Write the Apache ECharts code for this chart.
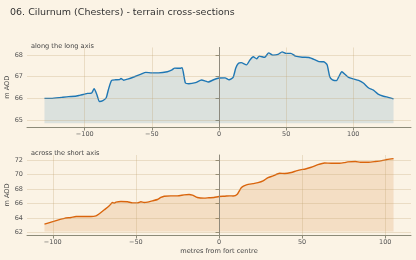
<!DOCTYPE html>
<html>
<head>
<meta charset="utf-8">
<script src="https://cdn.jsdelivr.net/npm/echarts@6/dist/echarts.min.js"></script>
<style>
  html, body { margin: 0; padding: 0; background: #fbf3e5; }
  #chart { width: 416px; height: 260px; }
</style>
</head>
<body>
<div id="chart"></div>
<script>
// long axis profile (metres from centre, m AOD)
var longX = [-130,-125,-117,-112,-107,-104,-100,-98,-95,-93,-91,-89,-86.5,-84,-82.5,-80,-77,-74,-73,-71,-68,-63,-58,-54.5,-50,-45,-38.5,-35,-33,-29,-27.5,-25,-22.5,-17.5,-13,-10,-8,-4,0,4.5,7.5,10.5,12.5,14.5,16.5,20.5,23,25.5,28,30,34,37,40,44,47,50,53.5,57,62,67,72,74.5,78,80.5,82.5,84.5,87.5,89,91.5,94,96.5,100,104,107.5,111.5,115,118.5,122.5,126,130];
var longY = [66.0,66.0,66.05,66.08,66.1,66.14,66.2,66.23,66.24,66.45,66.18,65.86,65.9,66.03,66.38,66.83,66.86,66.87,66.92,66.84,66.89,67.0,67.12,67.2,67.18,67.18,67.23,67.32,67.4,67.39,67.42,66.71,66.68,66.73,66.85,66.8,66.76,66.86,66.94,66.95,66.86,66.97,67.4,67.62,67.65,67.55,67.77,67.92,67.83,67.95,67.9,68.1,68.0,68.03,68.15,68.08,68.08,67.95,67.9,67.89,67.77,67.7,67.69,67.55,67.0,66.86,66.82,66.97,67.23,67.1,66.97,66.9,66.83,66.71,66.48,66.38,66.2,66.1,66.05,65.98];

// short axis profile
var shortX = [-105,-101,-97,-93,-89,-86,-81,-77,-74,-72,-69,-66,-64,-63,-62,-59,-55,-52,-49,-47,-45,-43,-40,-37,-35,-33,-29,-25,-21,-18,-16,-13,-9,-6,-3,0,3.5,6.5,8.5,11,13.5,16.5,20.5,23.5,26.5,29.5,32.5,36.5,39.5,43.5,46.5,49.5,51.5,55.5,59.5,63.5,67.5,72.5,75.5,77.5,82,85,90,94,98,101,105];
var shortY = [63.15,63.43,63.7,63.94,64.07,64.2,64.2,64.2,64.3,64.58,65.13,65.69,66.15,66.06,66.2,66.29,66.24,66.1,66.1,66.24,66.15,66.2,66.38,66.56,66.84,67.02,67.07,67.07,67.2,67.25,67.16,66.84,66.75,66.8,66.84,66.98,67.02,67.07,67.05,67.3,68.22,68.59,68.77,68.9,69.14,69.6,69.83,70.2,70.16,70.3,70.53,70.71,70.76,71.03,71.4,71.63,71.59,71.59,71.68,71.77,71.82,71.72,71.72,71.82,71.95,72.1,72.23];

var longXTicks = [-100, -50, 0, 50, 100];
var longYTicks = [65, 66, 67, 68];
var shortXTicks = [-100, -50, 0, 50, 100];
var shortYTicks = [62, 64, 66, 68, 70, 72];

function pairs(xs, ys) {
    var out = [];
    for (var i = 0; i < xs.length; i++) out.push([xs[i], ys[i]]);
    return out;
}
function minus(v) { return String(v).replace('-', '\u2212'); }

var font = 'DejaVu Sans';
var spine = '#8c8a78';
var gridCol = 'rgba(190,160,110,0.28)';

function xAxisOpt(idx, min, max, ticks, name) {
    return {
        type: 'value', gridIndex: idx, min: min, max: max,
        name: name || '', nameLocation: 'middle', nameGap: 13, nameMoveOverlap: false,
        nameTextStyle: { fontFamily: font, fontSize: 6.6, color: '#444' },
        axisLine: { onZero: false, lineStyle: { color: spine, width: 1 } },
        axisTick: { length: 3.5, lineStyle: { color: spine }, customValues: ticks },
        axisLabel: { fontFamily: font, fontSize: 6.5, color: '#555', margin: 4, customValues: ticks, formatter: minus },
        splitLine: { show: false }
    };
}
function yAxisOpt(idx, min, max, ticks) {
    return {
        type: 'value', gridIndex: idx, min: min, max: max,
        name: 'm AOD', nameLocation: 'middle', nameGap: 16, nameRotate: 90, nameMoveOverlap: false,
        nameTextStyle: { fontFamily: font, fontSize: 6.6, color: '#444' },
        axisLine: { show: true, lineStyle: { color: spine, width: 1 } },
        axisTick: { show: true, length: 3.5, lineStyle: { color: spine }, customValues: ticks },
        axisLabel: { fontFamily: font, fontSize: 6.5, color: '#555', margin: 4, customValues: ticks, formatter: minus },
        splitLine: { show: false }
    };
}
// grid lines + the centre line, drawn from the tick arrays
function guideLines(xTicks, yTicks) {
    var d = [];
    xTicks.forEach(function (v) { if (v !== 0) d.push({ xAxis: v }); });
    yTicks.forEach(function (v) { d.push({ yAxis: v }); });
    d.push({ xAxis: 0, lineStyle: { color: '#8f897e', width: 1, opacity: 0.85 } });
    return {
        silent: true, symbol: 'none', label: { show: false }, animation: false,
        lineStyle: { color: gridCol, width: 1, type: 'solid' },
        data: d
    };
}

var chart = echarts.init(document.getElementById('chart'), null, { renderer: 'canvas' });
var option = {
    backgroundColor: '#fbf3e5',
    animation: false,
    title: [
        { text: '06. Cilurnum (Chesters) - terrain cross-sections', left: 5, top: 3,
          textStyle: { fontFamily: font, fontSize: 9.5, fontWeight: 'normal', color: '#333' } },
        { text: 'along the long axis', left: 26, top: 38,
          textStyle: { fontFamily: font, fontSize: 6.6, fontWeight: 'normal', color: '#444' } },
        { text: 'across the short axis', left: 26, top: 144.5,
          textStyle: { fontFamily: font, fontSize: 6.6, fontWeight: 'normal', color: '#444' } }
    ],
    grid: [
        { left: 27, right: 5, top: 47.5, height: 79.5, outerBoundsMode: 'none', containLabel: false },
        { left: 27, right: 5, top: 155, height: 80, outerBoundsMode: 'none', containLabel: false }
    ],
    xAxis: [
        xAxisOpt(0, -143, 143, longXTicks),
        xAxisOpt(1, -115.5, 115.5, shortXTicks, 'metres from fort centre')
    ],
    yAxis: [
        yAxisOpt(0, 64.68, 68.35, longYTicks),
        yAxisOpt(1, 61.64, 72.73, shortYTicks)
    ],
    series: [
        {
            type: 'line', xAxisIndex: 0, yAxisIndex: 0, data: pairs(longX, longY),
            showSymbol: false, smooth: 0.2, silent: true,
            lineStyle: { color: '#1f77b4', width: 1.4 },
            areaStyle: { color: 'rgba(31,119,180,0.2)', origin: 64.85 },
            markLine: guideLines(longXTicks, longYTicks)
        },
        {
            type: 'line', xAxisIndex: 1, yAxisIndex: 1, data: pairs(shortX, shortY),
            showSymbol: false, smooth: 0.2, silent: true,
            lineStyle: { color: '#d9650d', width: 1.4 },
            areaStyle: { color: 'rgba(206,98,0,0.2)', origin: 62.14 },
            markLine: guideLines(shortXTicks, shortYTicks)
        }
    ]
};
chart.setOption(option);
</script>
</body>
</html>
